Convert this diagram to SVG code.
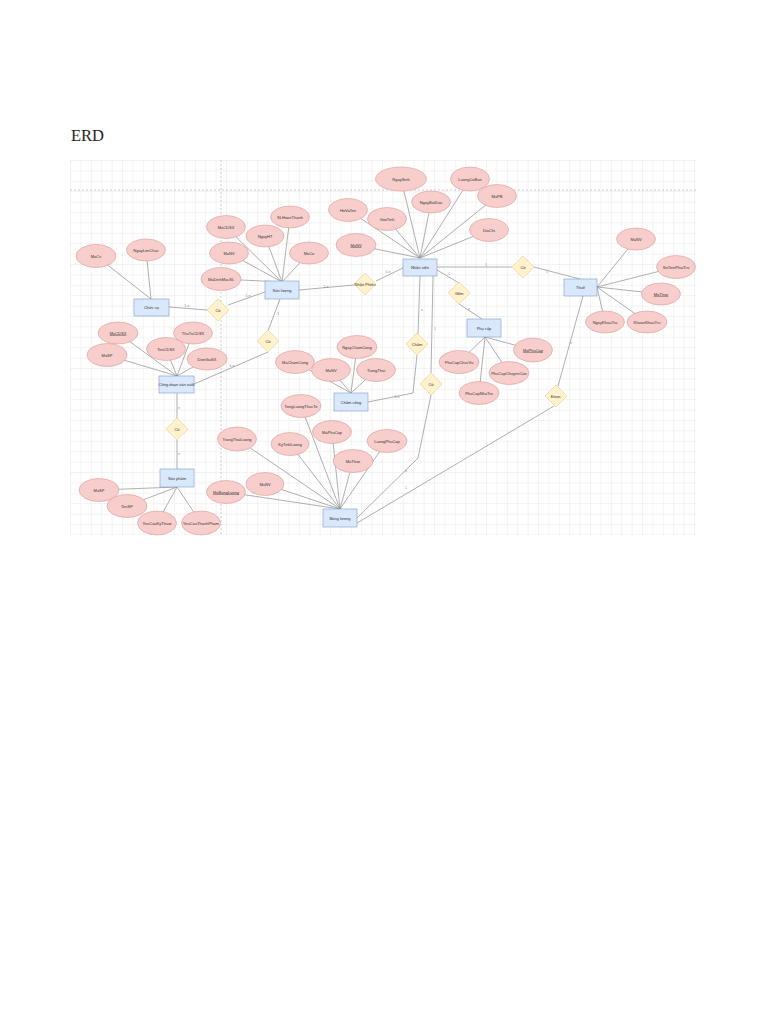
<svg xmlns="http://www.w3.org/2000/svg" width="768" height="1024" viewBox="0 0 768 1024">
<defs>
<pattern id="grid" x="70" y="160" width="10.4" height="10.4" patternUnits="userSpaceOnUse">
<path d="M10.4 0H0V10.4" fill="none" stroke="#d9d9d9" stroke-width="0.6"/>
</pattern>
<style>
.e{fill:#f8cecc;stroke:#d99a97;stroke-width:0.6}
.r{fill:#dae8fc;stroke:#7c9cc8;stroke-width:0.6}
.d{fill:#fff2cc;stroke:#e6cf8a;stroke-width:0.6}
.t{font-family:"Liberation Sans",Arial,sans-serif;font-size:4px;fill:#333;text-anchor:middle;dominant-baseline:central}
.k{text-decoration:underline}
.c{fill:none;stroke:#8c8c8c;stroke-width:0.7}
.l{font-family:"Liberation Sans",Arial,sans-serif;font-size:3px;fill:#777;text-anchor:middle}
</style>
</defs>
<rect width="768" height="1024" fill="#fff"/>
<text x="71" y="141" font-family="'Liberation Serif','DejaVu Serif',serif" font-size="16.5" fill="#222">ERD</text>
<rect x="70" y="160" width="627" height="375" fill="url(#grid)"/>
<path d="M70 190H697M221 160V535" stroke="#bdbdbd" stroke-width="0.8" stroke-dasharray="2 2" fill="none"/>

<g id="connectors">
<path class="c" d="M96 256L151 299M146 250L151 299"/>
<path class="c" d="M226 227L282 282M265 236L282 282M290 217L282 282M229 253L282 282M309 253L282 282M221 279L282 282"/>
<path class="c" d="M348 210L420 258M356 245L420 258M401 179L420 258M387 219L420 258M431 202L420 258M470 179L420 258M497 196L420 258M489 230L420 258"/>
<path class="c" d="M636 239L597 287M676 267L597 287M661 294L597 287M605 322L597 287M647 322L597 287"/>
<path class="c" d="M118 333L177 376M193 333L177 376M166 349L177 376M107 355L177 376M207 359L177 376"/>
<path class="c" d="M295 362L351 393M357 347L351 393M331 370L351 393M376 370L351 393"/>
<path class="c" d="M533 350L485 337M459 362L485 337M509 373L485 337M479 393L485 337"/>
<path class="c" d="M301 406L340 509M237 439L340 509M290 444L340 509M332 432L340 509M387 441L340 509M353 461L340 509M265 484L340 509M226 492L340 509"/>
<path class="c" d="M99 490L177 487M127 506L177 487M157 523L177 487M201 523L177 487"/>
<path class="c" d="M169 307L207 310"/>
<path class="c" d="M228 305L265 292"/>
<path class="c" d="M299 290L354 285"/>
<path class="c" d="M376 281L403 268"/>
<path class="c" d="M437 267L512 267"/>
<path class="c" d="M534 267L580 279"/>
<path class="c" d="M437 270L459 283"/>
<path class="c" d="M459 304L482 319"/>
<path class="c" d="M420 276L418 334"/>
<path class="c" d="M417 355L413 393L368 402"/>
<path class="c" d="M433 276L431 373"/>
<path class="c" d="M431 395L418 458L357 518"/>
<path class="c" d="M583 296L558 386"/>
<path class="c" d="M554 406L357 523"/>
<path class="c" d="M280 299L268 331"/>
<path class="c" d="M268 352L194 384"/>
<path class="c" d="M177 393V419M177 440V469"/>
<text class="l" x="187" y="307">1..n</text>
<text class="l" x="248" y="297">1..n</text>
<text class="l" x="326" y="288">1..n</text>
<text class="l" x="388" y="273">0..n</text>
<text class="l" x="486" y="266">1</text>
<text class="l" x="547" y="273">1</text>
<text class="l" x="449" y="275">1</text>
<text class="l" x="469" y="310">n</text>
<text class="l" x="422" y="311">n</text>
<text class="l" x="397" y="398">1..n</text>
<text class="l" x="435" y="330">1</text>
<text class="l" x="406" y="472">n</text>
<text class="l" x="571" y="344">n</text>
<text class="l" x="406" y="489">1</text>
<text class="l" x="278" y="315">1</text>
<text class="l" x="232" y="367">0..n</text>
<text class="l" x="179" y="409">n</text>
<text class="l" x="179" y="455">n</text>
</g>

<g id="e-chucvu"><rect class="r" x="134" y="299" width="35" height="17"/><text class="t" x="151.5" y="307.5">Chức vụ</text></g>
<g id="e-sanluong"><rect class="r" x="265" y="281" width="34" height="18"/><text class="t" x="282" y="290">Sản lượng</text></g>
<g id="e-nhanvien"><rect class="r" x="403" y="259" width="34" height="17"/><text class="t" x="420" y="267.5">Nhân viên</text></g>
<g id="e-thue"><rect class="r" x="564" y="279" width="33" height="17"/><text class="t" x="580.5" y="287.5">Thuế</text></g>
<g id="e-phucap"><rect class="r" x="467" y="319" width="34" height="18"/><text class="t" x="484" y="328">Phụ cấp</text></g>
<g id="e-chamcong"><rect class="r" x="334" y="393" width="34" height="18"/><text class="t" x="351" y="402">Chấm công</text></g>
<g id="e-congdoan"><rect class="r" x="159" y="376" width="35" height="17"/><text class="t" x="176.5" y="384.5">Công đoạn sản xuất</text></g>
<g id="e-sanpham"><rect class="r" x="160" y="469" width="34" height="18"/><text class="t" x="177" y="478">Sản phẩm</text></g>
<g id="e-bangluong"><rect class="r" x="323" y="509" width="34" height="18"/><text class="t" x="340" y="518">Bảng lương</text></g>

<g id="r-co1"><path class="d" d="M218 299L229 310L218 321L207 310Z"/><text class="t" x="218" y="310">Có</text></g>
<g id="r-nhanphieu"><path class="d" d="M365 273L376 284L365 295L354 284Z"/><text class="t" x="365" y="284">Nhận Phiếu</text></g>
<g id="r-co2"><path class="d" d="M268 330L279 341L268 352L257 341Z"/><text class="t" x="268" y="341">Có</text></g>
<g id="r-cham"><path class="d" d="M417 333L428 344L417 355L406 344Z"/><text class="t" x="417" y="344">Chấm</text></g>
<g id="r-co3"><path class="d" d="M431 373L442 384L431 395L420 384Z"/><text class="t" x="431" y="384">Có</text></g>
<g id="r-gom"><path class="d" d="M459 282L470 293L459 304L448 293Z"/><text class="t" x="459" y="293">Gồm</text></g>
<g id="r-co4"><path class="d" d="M523 256L534 267L523 278L512 267Z"/><text class="t" x="523" y="267">Có</text></g>
<g id="r-duoc"><path class="d" d="M556 385L567 396L556 407L545 396Z"/><text class="t" x="556" y="396">Được</text></g>
<g id="r-co5"><path class="d" d="M177 418L188 429L177 440L166 429Z"/><text class="t" x="177" y="429">Có</text></g>

<g id="a-macv"><ellipse class="e" cx="96" cy="256" rx="20" ry="11.5"/><text class="t" x="96" y="256">MaCv</text></g>
<g id="a-ngaylenchuc"><ellipse class="e" cx="146" cy="250" rx="19.5" ry="11"/><text class="t" x="146" y="250">NgayLenChuc</text></g>
<g id="a-sl-macdsx"><ellipse class="e" cx="226" cy="227" rx="19.5" ry="11.5"/><text class="t" x="226" y="227">MaCDSX</text></g>
<g id="a-sl-ngayht"><ellipse class="e" cx="265" cy="236" rx="19" ry="11"/><text class="t" x="265" y="236">NgayHT</text></g>
<g id="a-sl-slhoanthanh"><ellipse class="e" cx="290" cy="217" rx="19.5" ry="11"/><text class="t" x="290" y="217">SLHoanThanh</text></g>
<g id="a-sl-manv"><ellipse class="e" cx="229" cy="253" rx="19.5" ry="11"/><text class="t" x="229" y="253">MaNV</text></g>
<g id="a-sl-maca"><ellipse class="e" cx="309" cy="253" rx="19.5" ry="11"/><text class="t" x="309" y="253">MaCa</text></g>
<g id="a-sl-madinhmuc"><ellipse class="e" cx="221" cy="279" rx="20" ry="11.5"/><text class="t" x="221" y="279">MaDinhMucSL</text></g>
<g id="a-nv-hovaten"><ellipse class="e" cx="348" cy="210" rx="19.5" ry="11.5"/><text class="t" x="348" y="210">HoVaTen</text></g>
<g id="a-nv-manv"><ellipse class="e" cx="356" cy="245" rx="20" ry="11.5"/><text class="t k" x="356" y="245">MaNV</text></g>
<g id="a-nv-ngaysinh"><ellipse class="e" cx="401" cy="179" rx="25.5" ry="12"/><text class="t" x="401" y="179">NgaySinh</text></g>
<g id="a-nv-gioitinh"><ellipse class="e" cx="387" cy="219" rx="19.5" ry="11.5"/><text class="t" x="387" y="219">GioiTinh</text></g>
<g id="a-nv-ngaybatdau"><ellipse class="e" cx="431" cy="202" rx="19.5" ry="11"/><text class="t" x="431" y="202">NgayBatDau</text></g>
<g id="a-nv-luongcoban"><ellipse class="e" cx="470" cy="179" rx="19.5" ry="12"/><text class="t" x="470" y="179">LuongCoBan</text></g>
<g id="a-nv-mapb"><ellipse class="e" cx="497" cy="196" rx="19.5" ry="11.5"/><text class="t" x="497" y="196">MaPB</text></g>
<g id="a-nv-diachi"><ellipse class="e" cx="489" cy="230" rx="19.5" ry="11.5"/><text class="t" x="489" y="230">DiaChi</text></g>
<g id="a-th-manv"><ellipse class="e" cx="636" cy="239" rx="19.5" ry="11"/><text class="t" x="636" y="239">MaNV</text></g>
<g id="a-th-sotien"><ellipse class="e" cx="676" cy="267" rx="19.5" ry="11.5"/><text class="t" x="676" y="267">SoTienPhaiTru</text></g>
<g id="a-th-mathue"><ellipse class="e" cx="661" cy="294" rx="19.5" ry="11"/><text class="t k" x="661" y="294">MaThue</text></g>
<g id="a-th-ngaykhautru"><ellipse class="e" cx="605" cy="322" rx="19.5" ry="11"/><text class="t" x="605" y="322">NgayKhauTru</text></g>
<g id="a-th-khoankhautru"><ellipse class="e" cx="647" cy="322" rx="20" ry="11"/><text class="t" x="647" y="322">KhoanKhauTru</text></g>
<g id="a-cd-macdsx"><ellipse class="e" cx="118" cy="333" rx="20" ry="11"/><text class="t k" x="118" y="333">MaCDSX</text></g>
<g id="a-cd-thutu"><ellipse class="e" cx="193" cy="333" rx="19.5" ry="11"/><text class="t" x="193" y="333">ThuTuCDSX</text></g>
<g id="a-cd-ten"><ellipse class="e" cx="166" cy="349" rx="19.5" ry="11.5"/><text class="t" x="166" y="349">TenCDSX</text></g>
<g id="a-cd-masp"><ellipse class="e" cx="107" cy="355" rx="20" ry="11.5"/><text class="t" x="107" y="355">MaSP</text></g>
<g id="a-cd-dongia"><ellipse class="e" cx="207" cy="359" rx="20" ry="11"/><text class="t" x="207" y="359">DonGiaSX</text></g>
<g id="a-cc-ma"><ellipse class="e" cx="295" cy="362" rx="19.5" ry="11.5"/><text class="t" x="295" y="362">MaChamCong</text></g>
<g id="a-cc-ngay"><ellipse class="e" cx="357" cy="347" rx="20" ry="11.5"/><text class="t" x="357" y="347">NgayChamCong</text></g>
<g id="a-cc-manv"><ellipse class="e" cx="331" cy="370" rx="19.5" ry="11.5"/><text class="t" x="331" y="370">MaNV</text></g>
<g id="a-cc-trangthai"><ellipse class="e" cx="376" cy="370" rx="19.5" ry="11.5"/><text class="t" x="376" y="370">TrangThai</text></g>
<g id="a-pc-ma"><ellipse class="e" cx="533" cy="350" rx="19.5" ry="12"/><text class="t k" x="533" y="350">MaPhuCap</text></g>
<g id="a-pc-chucvu"><ellipse class="e" cx="459" cy="362" rx="20" ry="11.5"/><text class="t" x="459" y="362">PhuCapChucVu</text></g>
<g id="a-pc-chuyencan"><ellipse class="e" cx="509" cy="373" rx="20" ry="11.5"/><text class="t" x="509" y="373">PhuCapChuyenCan</text></g>
<g id="a-pc-nhatro"><ellipse class="e" cx="479" cy="393" rx="20" ry="11.5"/><text class="t" x="479" y="393">PhuCapNhaTro</text></g>
<g id="a-bl-tongluong"><ellipse class="e" cx="301" cy="406" rx="20" ry="11.5"/><text class="t" x="301" y="406">TongLuongThucTe</text></g>
<g id="a-bl-trangthai"><ellipse class="e" cx="237" cy="439" rx="19.5" ry="12"/><text class="t" x="237" y="439">TrangThaiLuong</text></g>
<g id="a-bl-kytinh"><ellipse class="e" cx="290" cy="444" rx="19" ry="11.5"/><text class="t" x="290" y="444">KyTinhLuong</text></g>
<g id="a-bl-maphucap"><ellipse class="e" cx="332" cy="432" rx="19.5" ry="11.5"/><text class="t" x="332" y="432">MaPhuCap</text></g>
<g id="a-bl-luongphucap"><ellipse class="e" cx="387" cy="441" rx="20" ry="11.5"/><text class="t" x="387" y="441">LuongPhuCap</text></g>
<g id="a-bl-mathue"><ellipse class="e" cx="353" cy="461" rx="20" ry="11.5"/><text class="t" x="353" y="461">MaThue</text></g>
<g id="a-bl-manv"><ellipse class="e" cx="265" cy="484" rx="19" ry="11.5"/><text class="t" x="265" y="484">MaNV</text></g>
<g id="a-bl-ma"><ellipse class="e" cx="226" cy="492" rx="19.5" ry="11.5"/><text class="t k" x="226" y="492">MaBangLuong</text></g>
<g id="a-sp-masp"><ellipse class="e" cx="99" cy="490" rx="20" ry="11.5"/><text class="t" x="99" y="490">MaSP</text></g>
<g id="a-sp-tensp"><ellipse class="e" cx="127" cy="506" rx="20" ry="11.5"/><text class="t" x="127" y="506">TenSP</text></g>
<g id="a-sp-kythuat"><ellipse class="e" cx="157" cy="523" rx="19.5" ry="12"/><text class="t" x="157" y="523">YeuCauKyThuat</text></g>
<g id="a-sp-thanhpham"><ellipse class="e" cx="201" cy="523" rx="19.5" ry="12"/><text class="t" x="201" y="523">YeuCauThanhPham</text></g>
</svg>
